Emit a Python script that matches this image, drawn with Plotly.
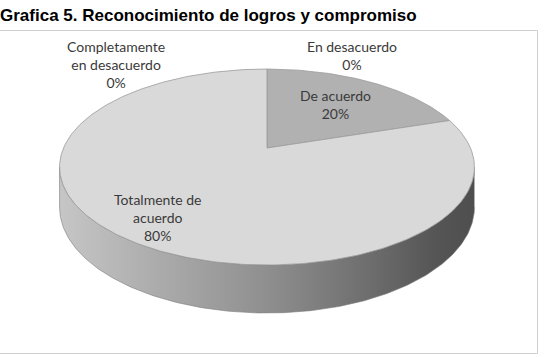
import numpy as np
import plotly.graph_objects as go

# ---- data ----
categories = ["En desacuerdo", "De acuerdo", "Totalmente de acuerdo", "Completamente en desacuerdo"]
values = [0, 20, 80, 0]
label_text = ["En desacuerdo", "De acuerdo", "Totalmente de<br>acuerdo", "Completamente<br>en desacuerdo"]
title_text = "Grafica 5. Reconocimiento de logros y compromiso"

# ---- style ----
W, H = 552, 357
CX, CY = 267.0, 148.0      # projected centre of the pie top
R, S, K = 203.5, 94.3, 0.194  # horizontal radius, vertical radius, perspective
DEPTH = 38.7               # thickness of the pie
top_colors = ["#c8c8c8", "#b1b1b1", "#d9d9d9", "#c8c8c8"]
edge_color = "#9a9a9a"
side_scale = [[0, "#c6c6c6"], [0.25, "#aaaaaa"], [0.5, "#8f8f8f"],
              [0.75, "#6d6d6d"], [0.9, "#565656"], [1, "#4e4e4e"]]
text_color = "#3a3a3a"
label_font = dict(family="Lato, Open Sans, sans-serif", size=14, color=text_color)
# label placement: radial factor for in-slice labels, or fixed anchor for empty slices
label_radial = [None, 0.63, 0.80, None]
label_fixed = [(352, 55), None, None, (116, 64)]


def proj(phi, t=1.0, drop=0.0):
    X = t * np.sin(phi)
    Z = t * np.cos(phi)
    d = 1 + K * Z
    return CX + R * X / d, CY - S * Z / d + drop / d


total = float(sum(values))
fracs = [v / total for v in values]
starts = np.concatenate([[0], np.cumsum(fracs)[:-1]]) * 2 * np.pi
ends = np.cumsum(fracs) * 2 * np.pi

fig = go.Figure()

# side walls (visible front part only)
phi_e = np.arccos(-K)
vis0, vis1 = phi_e, 2 * np.pi - phi_e
for i, (a0, a1) in enumerate(zip(starts, ends)):
    lo, hi = max(a0, vis0), min(a1, vis1)
    if hi <= lo:
        continue
    ph = np.linspace(lo, hi, 200)
    xt, yt = proj(ph)
    xb, yb = proj(ph[::-1], drop=DEPTH)
    fig.add_trace(go.Scatter(
        x=np.concatenate([xt, xb]), y=np.concatenate([yt, yb]),
        mode="lines", fill="toself",
        fillgradient=dict(type="horizontal", colorscale=side_scale),
        line=dict(color="#7a7a7a", width=0.6),
        hoverinfo="skip", showlegend=False))

# top faces
for i, (a0, a1) in enumerate(zip(starts, ends)):
    if a1 - a0 <= 0:
        continue
    ph = np.linspace(a0, a1, 300)
    xa, ya = proj(ph)
    fig.add_trace(go.Scatter(
        x=np.concatenate([[CX], xa, [CX]]), y=np.concatenate([[CY], ya, [CY]]),
        mode="lines", fill="toself", fillcolor=top_colors[i],
        line=dict(color=edge_color, width=0.8),
        name=categories[i], hoverinfo="name", showlegend=False))

# labels
for i in range(len(values)):
    pct = f"{round(values[i] / total * 100)}%"
    txt = f"{label_text[i]}<br>{pct}"
    if label_fixed[i] is not None:
        lx, ly = label_fixed[i]
    else:
        mid = (starts[i] + ends[i]) / 2
        lx, ly = proj(mid, t=label_radial[i])
    fig.add_annotation(x=lx, y=ly, text=txt, showarrow=False, font=label_font,
                       xanchor="center", yanchor="middle", align="center")

# title
fig.add_annotation(x=0, y=1 - 16 / H, xref="paper", yref="paper", xshift=-2,
                   text=f"<b>{title_text}</b>", showarrow=False,
                   xanchor="left", yanchor="middle",
                   font=dict(family="Liberation Sans, Arial, sans-serif", size=17, color="#000000"))

# chart-area border
fig.add_shape(type="rect", x0=-1, x1=537.5, y0=30.5, y1=353.5,
              line=dict(color="#cfcfcf", width=1), layer="below")

fig.update_layout(
    width=W, height=H, margin=dict(l=0, r=0, t=0, b=0),
    paper_bgcolor="white", plot_bgcolor="white",
    xaxis=dict(range=[0, W], visible=False, fixedrange=True),
    yaxis=dict(range=[H, 0], visible=False, fixedrange=True),
    showlegend=False,
)

fig.write_html("out.html")
